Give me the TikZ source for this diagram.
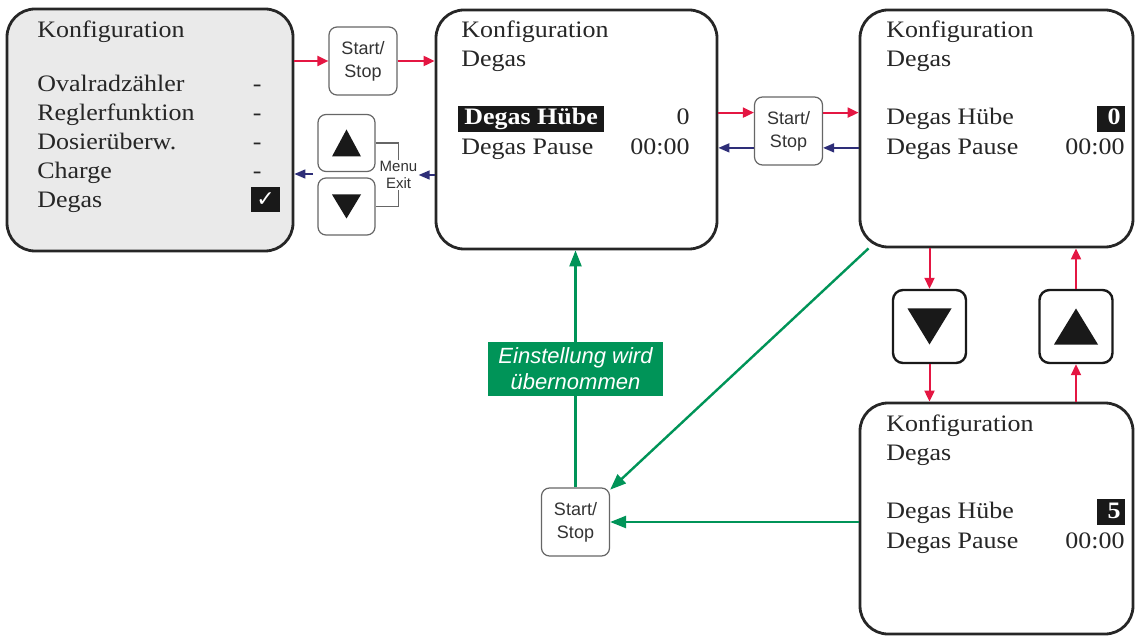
\documentclass[tikz,border=0pt]{standalone}
\usepackage{fontspec}
\setmainfont[FakeStretch=1.1]{Liberation Serif}
\setsansfont{Liberation Sans}
\newfontfamily\symfont{DejaVu Sans}
\usetikzlibrary{arrows.meta,calc}
\definecolor{keyred}{RGB}{228,22,66}
\definecolor{keyblue}{RGB}{46,46,120}
\definecolor{okgreen}{RGB}{0,148,88}
\definecolor{lcdgray}{RGB}{234,234,234}

\begin{document}
\begin{tikzpicture}[x=0.5pt,y=-0.5pt,
  screen/.style={draw=black!85, line width=1.4pt, rounded corners=14pt, inner sep=0pt},
  key/.style={draw=black!60, line width=0.6pt, rounded corners=4pt, fill=white, inner sep=0pt,
    minimum size=34pt, align=center, font=\sffamily\fontsize{9}{11.5}\selectfont, text=black!80},
  bigkey/.style={key, draw=black!90, line width=1.2pt, rounded corners=5pt, minimum size=36.5pt},
  smallkey/.style={key, minimum size=28.5pt},
  lcd/.style={anchor=base west, inner sep=0pt, font=\fontsize{11.8}{14}\selectfont, text=black!85},
  lcdval/.style={lcd, anchor=base east},
  hl/.style={fill=black!90, text=white, font=\fontsize{11.8}{14}\selectfont\bfseries,
    inner ysep=0pt, text height=9.5pt, text depth=3.5pt},
  go/.style={-{Triangle[length=5.5pt,width=5pt]}, line width=1pt, draw=keyred},
  back/.style={-{Triangle[length=5.5pt,width=4.5pt]}, line width=0.8pt, draw=keyblue},
  ok/.style={-{Triangle[length=8pt,width=6pt]}, line width=1.2pt, draw=okgreen}]

\useasboundingbox (0,0) rectangle (1135,636);

% screen 1: menu
\node[screen, fill=lcdgray, minimum width=143pt, minimum height=121pt] (s1) at (150,130) {};
\node[lcd] (s1head) at (37,38) {Konfiguration};
\foreach \t [count=\i] in {Ovalradzähler,Reglerfunktion,Dosierüberw.,Charge,Degas}
  \node[lcd] (s1opt\i) at (37,{63+29*\i}) {\t};
\foreach \i in {1,...,4}
  \node[lcdval] (s1dash\i) at (262,{63+29*\i}) {-};
\node[fill=black!90, text=white, inner sep=0pt, minimum width=14.5pt, minimum height=12.5pt,
  font=\symfont\fontsize{11}{11}\selectfont] (s1chk) at (265.5,199.5) {✓};

% screen 2: Degas selected
\node[screen, fill=white, minimum width=140.5pt, minimum height=119.5pt] (s2) at (576.5,129.5) {};
\node[lcd] (s2head) at (461,38) {Konfiguration};
\node[lcd] (s2sub) at (461,67) {Degas};
\node[lcd, hl, inner xsep=3pt] (s2sel) at (458,125) {Degas Hübe};
\node[lcdval] (s2val) at (690,125) {0};
\node[lcd] (s2pause) at (461,155) {Degas Pause};
\node[lcdval] (s2time) at (690,155) {00:00};

% screen 3: value 0
\node[screen, fill=white, minimum width=136.5pt, minimum height=118.5pt] (s3) at (996.5,128.5) {};
\node[lcd] (s3head) at (886,38) {Konfiguration};
\node[lcd] (s3sub) at (886,67) {Degas};
\node[lcd] (s3hub) at (886,125) {Degas Hübe};
\node[lcdval, hl, text width=10pt, align=right, inner xsep=2pt] (s3val) at (1125,125) {0};
\node[lcd] (s3pause) at (886,155) {Degas Pause};
\node[lcdval] (s3time) at (1125,155) {00:00};

% screen 4: value 5
\node[screen, fill=white, minimum width=136.5pt, minimum height=115.5pt] (s4) at (996.5,518.5) {};
\node[lcd] (s4head) at (886,431) {Konfiguration};
\node[lcd] (s4sub) at (886,460) {Degas};
\node[lcd] (s4hub) at (886,518) {Degas Hübe};
\node[lcdval, hl, text width=10pt, align=right, inner xsep=2pt] (s4val) at (1125,518) {5};
\node[lcd] (s4pause) at (886,548) {Degas Pause};
\node[lcdval] (s4time) at (1125,548) {00:00};

% keys
\node[key] (ss1) at (363,61) {Start/\\Stop};
\node[key] (ss2) at (788.5,131) {Start/\\Stop};
\node[key] (ss3) at (575.5,522) {Start/\\Stop};
\node[smallkey] (ku1) at (346.5,143) {};
\node[smallkey] (kd1) at (346.5,206.5) {};
\node[bigkey] (kd2) at (929.5,326.5) {};
\node[bigkey] (ku2) at (1076,326.5) {};
\foreach \k/\s/\w/\h in {ku1/1/14.5/13.5, kd1/-1/14.5/12, ku2/1/22/18, kd2/-1/22/18}
  \fill[black!90] ([shift={(-\w,\s*\h)}]\k.center) -- ([shift={(\w,\s*\h)}]\k.center)
    -- ([shift={(0,-\s*\h)}]\k.center) -- cycle;

% Menu/Exit bracket
\draw[draw=black!60, line width=0.6pt] (ku1.east) -- ++(23,0) |- (kd1.east);
\node[fill=white, inner sep=0.5pt, align=center, text=black!80,
  font=\sffamily\fontsize{7.5}{8.5}\selectfont] (menu) at (398.5,175) {Menu\\Exit};
\coordinate (mx) at (313,174);

% red: forward
\draw[go] (s1.east |- ss1) -- (ss1);
\draw[go] (ss1) -- (s2.west |- ss1);
\draw[go] (s2.east |- ss2.152) -- (ss2.152);
\draw[go] (ss2.28) -- (s3.west |- ss2.28);
\draw[go] (s3.south -| kd2) -- (kd2);
\draw[go] (kd2) -- (s4.north -| kd2);
\draw[go] (s4.north -| ku2) -- (ku2);
\draw[go] (ku2) -- (s3.south -| ku2);

% blue: back
\draw[back] (s3.west |- ss2.-26) -- (ss2.-26);
\draw[back] (ss2.-154) -- (s2.east |- ss2.-154);
\draw[back] (s2.west |- menu) -- (menu.east);
\draw[back] (mx) -- (s1.east |- mx);

% green: confirm
\draw[ok] (s3) -- (ss3);
\draw[ok] (s4.west |- ss3.east) -- (ss3.east);
\draw[ok] (ss3.north) -- (ss3.north |- s2.south)
  node[midway, fill=okgreen, text=white, inner sep=0pt, minimum width=87.5pt, minimum height=27pt,
    align=center, font=\sffamily\itshape\fontsize{11}{13}\selectfont] (msg) {Einstellung wird\\übernommen};

\end{tikzpicture}
\end{document}
